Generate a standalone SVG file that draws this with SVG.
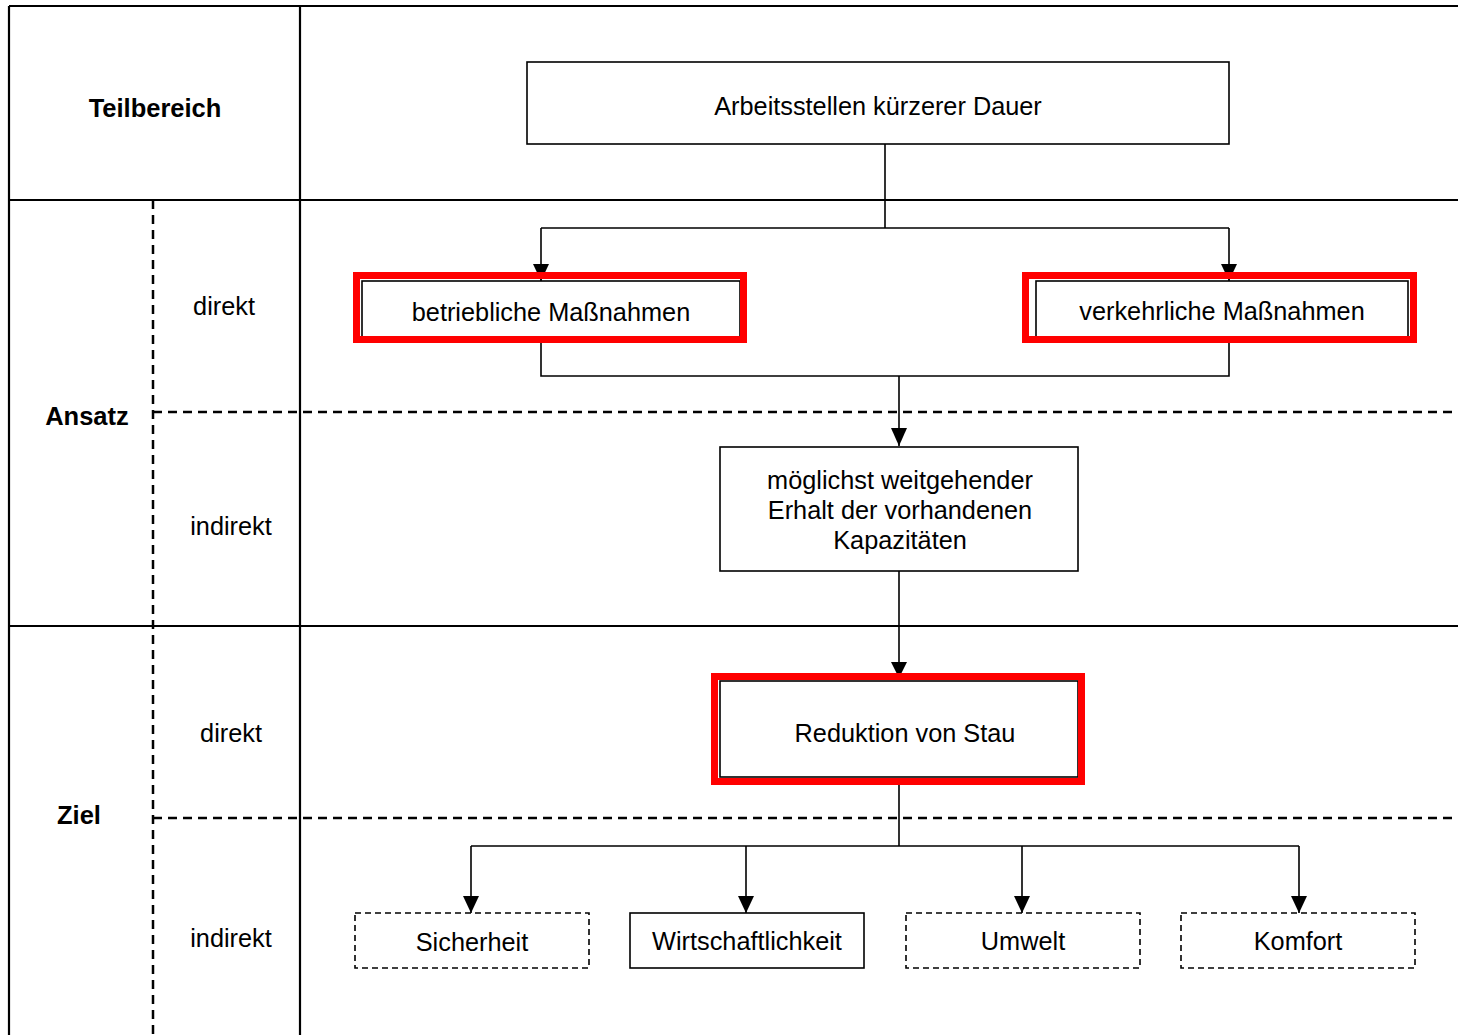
<svg xmlns="http://www.w3.org/2000/svg" width="1458" height="1035" viewBox="0 0 1458 1035">
<style>
.frame{stroke:#000;stroke-width:2.2;fill:none}
.dash{stroke:#000;stroke-width:2.5;fill:none;stroke-dasharray:9,6}
.box{fill:#fff;stroke:#000;stroke-width:1.6}
.dbox{fill:#fff;stroke:#000;stroke-width:1.6;stroke-dasharray:6,4}
.red{fill:none;stroke:#ff0000;stroke-width:7}
.conn{stroke:#000;stroke-width:1.6;fill:none}
.t{font-family:"Liberation Sans",Arial,sans-serif;font-size:25.3px;fill:#000;text-anchor:middle}
.b{font-family:"Liberation Sans",Arial,sans-serif;font-size:25.5px;font-weight:bold;fill:#000;text-anchor:middle}
</style>
<rect width="1458" height="1035" fill="#fff"/>
<g id="grid">
<line class="frame" x1="9" y1="6" x2="1458" y2="6"/>
<line class="frame" x1="9" y1="6" x2="9" y2="1035"/>
<line class="frame" x1="300" y1="6" x2="300" y2="1035"/>
<line class="frame" x1="9" y1="200" x2="1458" y2="200"/>
<line class="frame" x1="9" y1="626" x2="1458" y2="626"/>
<line class="dash" x1="153" y1="200" x2="153" y2="1035"/>
<line class="dash" x1="153" y1="412" x2="1458" y2="412"/>
<line class="dash" x1="153" y1="818" x2="1458" y2="818"/>
</g>
<g id="labels">
<text class="b" x="155" y="117">Teilbereich</text>
<text class="b" x="87" y="425">Ansatz</text>
<text class="b" x="79" y="824">Ziel</text>
<text class="t" x="224" y="315">direkt</text>
<text class="t" x="231" y="535">indirekt</text>
<text class="t" x="231" y="742">direkt</text>
<text class="t" x="231" y="947">indirekt</text>
</g>
<g id="connectors">
<path class="conn" d="M885,144 V228 M541,228 H1229"/>
<path class="conn" d="M541,228 V281" />
<path class="conn" d="M1229,228 V281" />
<path class="conn" d="M541,343 V376 H1229 V343"/>
<path class="conn" d="M899,376 V446"/>
<path class="conn" d="M899,571 V676"/>
<path class="conn" d="M899,785 V846 M471,846 H1299"/>
<path class="conn" d="M471,846 V913"/>
<path class="conn" d="M746,846 V913"/>
<path class="conn" d="M1022,846 V913"/>
<path class="conn" d="M1299,846 V913"/>
<path d="M533,264 L549,264 L541,281 Z"/>
<path d="M1221,264 L1237,264 L1229,281 Z"/>
<path d="M891,428 L907,428 L899,446 Z"/>
<path d="M891,662 L907,662 L899,678 Z"/>
<path d="M463,896 L479,896 L471,913 Z"/>
<path d="M738,896 L754,896 L746,913 Z"/>
<path d="M1014,896 L1030,896 L1022,913 Z"/>
<path d="M1291,896 L1307,896 L1299,913 Z"/>
</g>
<g id="n-arbeitsstellen">
<rect class="box" x="527" y="62" width="702" height="82"/>
<text class="t" x="878" y="115">Arbeitsstellen kürzerer Dauer</text>
</g>
<g id="n-betriebliche">
<rect class="box" x="362" y="281" width="378" height="56"/>
<rect class="red" x="356.5" y="275.5" width="387" height="64"/>
<text class="t" x="551" y="321">betriebliche Maßnahmen</text>
</g>
<g id="n-verkehrliche">
<rect class="box" x="1036" y="281" width="372" height="56"/>
<rect class="red" x="1025.5" y="275.5" width="388" height="64"/>
<text class="t" x="1222" y="320">verkehrliche Maßnahmen</text>
</g>
<g id="n-kapazitaeten">
<rect class="box" x="720" y="447" width="358" height="124"/>
<text class="t" x="900" y="489">möglichst weitgehender</text>
<text class="t" x="900" y="519">Erhalt der vorhandenen</text>
<text class="t" x="900" y="549">Kapazitäten</text>
</g>
<g id="n-reduktion">
<rect class="box" x="720" y="681" width="358" height="96"/>
<rect class="red" x="714.5" y="676.5" width="367" height="105"/>
<text class="t" x="905" y="742">Reduktion von Stau</text>
</g>
<g id="n-sicherheit">
<rect class="dbox" x="355" y="913" width="234" height="55"/>
<text class="t" x="472" y="951">Sicherheit</text>
</g>
<g id="n-wirtschaftlichkeit">
<rect class="box" x="630" y="913" width="234" height="55"/>
<text class="t" x="747" y="950">Wirtschaftlichkeit</text>
</g>
<g id="n-umwelt">
<rect class="dbox" x="906" y="913" width="234" height="55"/>
<text class="t" x="1023" y="950">Umwelt</text>
</g>
<g id="n-komfort">
<rect class="dbox" x="1181" y="913" width="234" height="55"/>
<text class="t" x="1298" y="950">Komfort</text>
</g>
</svg>
